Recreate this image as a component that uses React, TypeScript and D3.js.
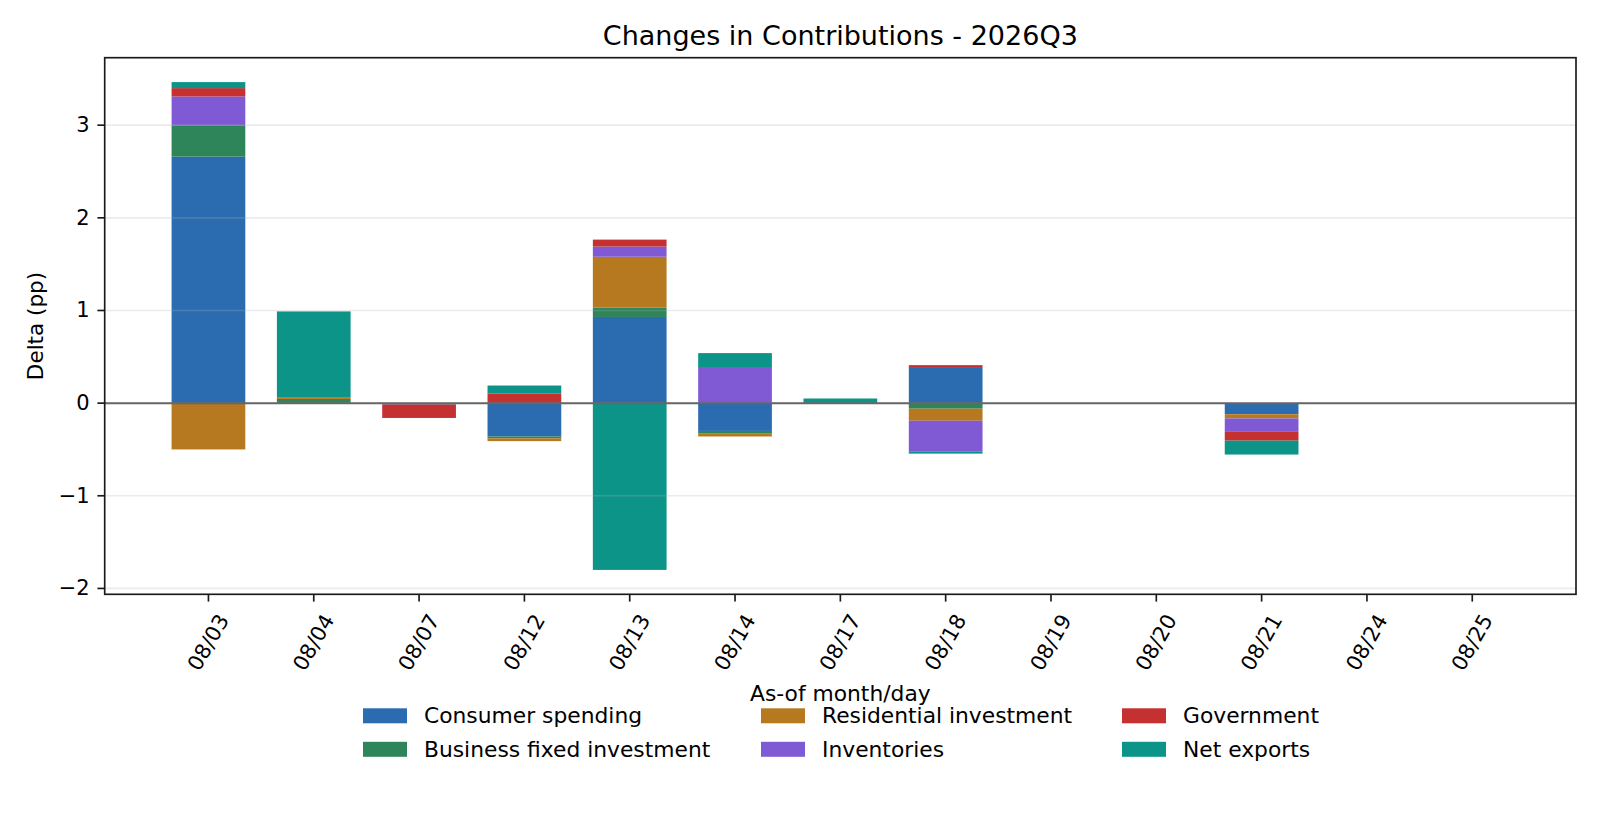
import * as d3 from "d3";

const dates = ["08/03", "08/04", "08/07", "08/12", "08/13", "08/14", "08/17", "08/18", "08/19", "08/20", "08/21", "08/24", "08/25"];

const seriesNames = [
  "Consumer spending",
  "Business fixed investment",
  "Residential investment",
  "Inventories",
  "Government",
  "Net exports",
];

const seriesColors = ["#2b6cb0", "#2f855a", "#b7791f", "#805ad5", "#c53030", "#0d9488"];

const consumer = [2.66, 0, -0.015, -0.36, 0.93, -0.3, 0, 0.38, 0, 0, -0.12, 0, 0];
const business = [0.34, 0.045, 0, -0.02, 0.1, -0.03, 0, -0.06, 0, 0, 0, 0, 0];
const residential = [-0.5, 0.02, 0, -0.03, 0.55, -0.03, 0, -0.13, 0, 0, -0.045, 0, 0];
const inventories = [0.31, 0, 0, 0, 0.11, 0.39, 0, -0.335, 0, 0, -0.145, 0, 0];
const government = [0.09, 0, -0.145, 0.105, 0.075, 0, 0, 0.03, 0, 0, -0.095, 0, 0];
const netExports = [0.065, 0.925, 0, 0.085, -1.8, 0.15, 0.05, -0.02, 0, 0, -0.15, 0, 0];

const yTicks = [-2, -1, 0, 1, 2, 3];

const W = 1600;
const H = 832;
const box = { left: 104.7, right: 1576, top: 57.7, bottom: 594.3 };
const font = "DejaVu Sans, sans-serif";

export default function App() {
  const allSeries = [consumer, business, residential, inventories, government, netExports];
  const rows = dates.map((d, i) => {
    const r: Record<string, number | string> = { date: d };
    seriesNames.forEach((n, k) => (r[n] = allSeries[k][i]));
    return r;
  });

  const stacked = d3
    .stack<any>()
    .keys(seriesNames)
    .offset(d3.stackOffsetDiverging)(rows);

  // matplotlib-like 5% margins
  const lo = d3.min(stacked, (s) => d3.min(s, (d) => d[0])) as number;
  const hi = d3.max(stacked, (s) => d3.max(s, (d) => d[1])) as number;
  const pad = (hi - lo) * 0.05;

  const barW = 0.7;
  const xl = -barW / 2;
  const xr = dates.length - 1 + barW / 2;
  const xpad = (xr - xl) * 0.05;

  const x = d3.scaleLinear().domain([xl - xpad, xr + xpad]).range([box.left, box.right]);
  const y = d3.scaleLinear().domain([lo - pad, hi + pad]).range([box.bottom, box.top]);
  const fmt = d3.format("d");
  const bw = x(barW) - x(0);

  const legendCols = [363, 761, 1122];
  const legendRows = [715.8, 749.3];

  return (
    <svg width={W} height={H} style={{ position: "fixed", left: 0, top: 0, background: "#fff" }} fontFamily={font}>
      <rect x={0} y={0} width={W} height={H} fill="#fff" />
      <text x={(box.left + box.right) / 2} y={45} textAnchor="middle" fontSize={27} fill="#000">
        Changes in Contributions - 2026Q3
      </text>

      {stacked.map((s, k) => (
        <g key={s.key} fill={seriesColors[k]}>
          {s.map((d, i) =>
            d[1] - d[0] === 0 ? null : (
              <rect
                key={i}
                x={x(i) - bw / 2}
                width={bw}
                y={y(Math.max(d[0], d[1]))}
                height={Math.abs(y(d[0]) - y(d[1]))}
              />
            )
          )}
        </g>
      ))}

      {yTicks.map((t) => (
        <line key={t} x1={box.left} x2={box.right} y1={y(t)} y2={y(t)} stroke="#b0b0b0" strokeOpacity={0.25} strokeWidth={1.67} />
      ))}
      <line x1={box.left} x2={box.right} y1={y(0)} y2={y(0)} stroke="#666" strokeWidth={2} />

      <rect x={box.left} y={box.top} width={box.right - box.left} height={box.bottom - box.top} fill="none" stroke="#1a1a1a" strokeWidth={1.67} />

      {yTicks.map((t) => (
        <g key={t}>
          <line x1={box.left - 7.3} x2={box.left} y1={y(t)} y2={y(t)} stroke="#1a1a1a" strokeWidth={1.67} />
          <text x={box.left - 15} y={y(t)} textAnchor="end" dominantBaseline="central" fontSize={21}>
            {fmt(t)}
          </text>
        </g>
      ))}

      {dates.map((d, i) => (
        <g key={d}>
          <line x1={x(i)} x2={x(i)} y1={box.bottom} y2={box.bottom + 7.3} stroke="#1a1a1a" strokeWidth={1.67} />
          <text
            transform={`translate(${x(i)},642.5) rotate(-60)`}
            textAnchor="middle"
            dominantBaseline="central"
            fontSize={21}
          >
            {d}
          </text>
        </g>
      ))}

      <text transform={`translate(35.5,${(box.top + box.bottom) / 2}) rotate(-90)`} textAnchor="middle" dominantBaseline="central" fontSize={21.5}>
        Delta (pp)
      </text>
      <text x={(box.left + box.right) / 2} y={701} textAnchor="middle" fontSize={21.8}>
        As-of month/day
      </text>

      {seriesNames.map((n, k) => {
        const col = Math.floor(k / 2);
        const row = k % 2;
        const lx = legendCols[col];
        const ly = legendRows[row];
        return (
          <g key={n}>
            <rect x={lx} y={ly - 7.5} width={44} height={15} fill={seriesColors[k]} />
            <text x={lx + 61} y={ly} dominantBaseline="central" fontSize={21.8}>
              {n}
            </text>
          </g>
        );
      })}
    </svg>
  );
}
